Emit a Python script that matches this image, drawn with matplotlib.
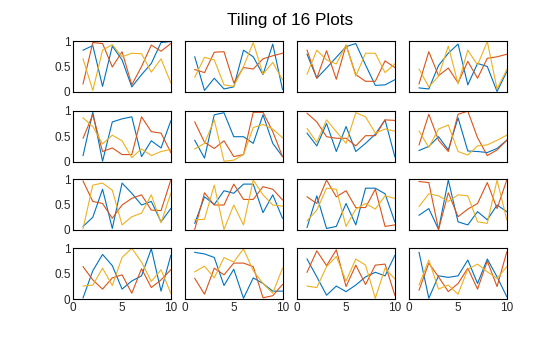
import matplotlib
matplotlib.use("Agg")
import matplotlib.pyplot as plt
import numpy as np

plt.rcParams["font.family"] = ["Liberation Sans", "DejaVu Sans"]

x = np.arange(1, 11)

# one row per tile, tiles ordered row by row
blue = [
    [0.82, 0.91, 0.11, 0.90, 0.63, 0.10, 0.34, 0.56, 0.97, 0.99],
    [0.69, 0.03, 0.27, 0.06, 0.10, 0.82, 0.69, 0.34, 0.94, 0.05],
    [0.74, 0.27, 0.47, 0.68, 0.89, 0.95, 0.53, 0.13, 0.14, 0.24],
    [0.08, 0.06, 0.52, 0.76, 0.94, 0.14, 0.56, 0.50, 0.01, 0.40],
    [0.12, 0.97, 0.01, 0.78, 0.84, 0.88, 0.10, 0.41, 0.27, 0.80],
    [0.42, 0.07, 0.92, 0.96, 0.49, 0.49, 0.36, 0.92, 0.36, 0.10],
    [0.56, 0.31, 0.75, 0.20, 0.69, 0.20, 0.36, 0.54, 0.82, 0.10],
    [0.22, 0.30, 0.49, 0.23, 0.86, 0.21, 0.20, 0.18, 0.26, 0.42],
    [0.07, 0.25, 0.80, 0.03, 0.92, 0.72, 0.49, 0.56, 0.16, 0.42],
    [0.13, 0.65, 0.50, 0.77, 0.72, 0.90, 0.90, 0.34, 0.69, 0.23],
    [0.05, 0.67, 0.03, 0.07, 0.52, 0.10, 0.82, 0.82, 0.71, 0.16],
    [0.29, 0.42, 0.01, 0.98, 0.16, 0.10, 0.36, 0.20, 0.49, 0.36],
    [0.03, 0.56, 0.88, 0.66, 0.20, 0.36, 0.46, 0.99, 0.16, 0.86],
    [0.92, 0.89, 0.82, 0.27, 0.59, 0.02, 0.42, 0.31, 0.16, 0.16],
    [0.79, 0.44, 0.08, 0.26, 0.15, 0.28, 0.44, 0.53, 0.46, 0.86],
    [0.92, 0.02, 0.46, 0.43, 0.46, 0.77, 0.31, 0.79, 0.44, 0.05],
]
orange = [
    [0.16, 0.97, 0.95, 0.49, 0.79, 0.14, 0.50, 0.92, 0.80, 0.95],
    [0.44, 0.38, 0.78, 0.79, 0.18, 0.48, 0.45, 0.65, 0.71, 0.76],
    [0.82, 0.27, 0.81, 0.25, 0.92, 0.34, 0.21, 0.21, 0.61, 0.48],
    [0.16, 0.79, 0.32, 0.47, 0.18, 0.60, 0.27, 0.66, 0.69, 0.74],
    [0.46, 0.92, 0.20, 0.27, 0.14, 0.14, 0.88, 0.59, 0.56, 0.18],
    [0.78, 0.38, 0.26, 0.41, 0.10, 0.14, 0.97, 0.97, 0.59, 0.10],
    [0.95, 0.78, 0.49, 0.46, 0.46, 0.31, 0.51, 0.51, 0.82, 0.81],
    [0.33, 0.93, 0.42, 0.20, 0.93, 0.99, 0.47, 0.12, 0.23, 0.42],
    [0.96, 0.56, 0.52, 0.23, 0.49, 0.62, 0.69, 0.39, 0.38, 0.98],
    [0.01, 0.73, 0.49, 0.49, 0.90, 0.60, 0.60, 0.85, 0.80, 0.59],
    [0.65, 0.52, 0.98, 0.65, 0.77, 0.44, 0.44, 0.80, 0.07, 0.10],
    [0.95, 0.93, 0.01, 0.73, 0.26, 0.41, 0.52, 0.93, 0.42, 0.98],
    [0.64, 0.38, 0.20, 0.42, 0.48, 0.12, 0.60, 0.23, 0.38, 0.58],
    [0.41, 0.10, 0.61, 0.48, 0.71, 0.71, 0.64, 0.03, 0.07, 0.29],
    [0.53, 0.95, 0.66, 0.97, 0.25, 0.67, 0.29, 0.67, 0.69, 0.08],
    [0.18, 0.71, 0.44, 0.15, 0.31, 0.61, 0.20, 0.75, 0.25, 0.93],
]
yellow = [
    [0.65, 0.03, 0.82, 0.93, 0.69, 0.76, 0.75, 0.39, 0.65, 0.18],
    [0.29, 0.68, 0.63, 0.14, 0.11, 0.50, 0.97, 0.35, 0.58, 0.24],
    [0.35, 0.82, 0.63, 0.55, 0.92, 0.31, 0.76, 0.76, 0.38, 0.55],
    [0.45, 0.10, 0.31, 0.90, 0.16, 0.82, 0.53, 0.99, 0.06, 0.44],
    [0.86, 0.69, 0.35, 0.52, 0.41, 0.08, 0.25, 0.12, 0.20, 0.24],
    [0.25, 0.36, 0.82, 0.01, 0.03, 0.14, 0.67, 0.73, 0.64, 0.47],
    [0.65, 0.38, 0.82, 0.59, 0.36, 0.96, 0.88, 0.56, 0.64, 0.60],
    [0.60, 0.28, 0.64, 0.72, 0.20, 0.13, 0.31, 0.33, 0.42, 0.52],
    [0.03, 0.88, 0.92, 0.78, 0.10, 0.26, 0.33, 0.69, 0.14, 0.72],
    [0.20, 0.21, 0.88, 0.01, 0.49, 0.10, 0.98, 0.69, 0.49, 0.47],
    [0.18, 0.39, 0.82, 0.80, 0.07, 0.41, 0.52, 0.41, 0.67, 0.62],
    [0.46, 0.71, 0.67, 0.56, 0.69, 0.67, 0.16, 0.13, 0.98, 0.20],
    [0.26, 0.28, 0.61, 0.27, 0.82, 1.00, 0.73, 0.35, 0.58, 0.12],
    [0.54, 0.65, 0.42, 0.82, 0.73, 0.99, 0.56, 0.31, 0.12, 0.61],
    [0.26, 0.23, 0.64, 0.84, 0.36, 0.79, 0.67, 0.02, 0.61, 0.40],
    [0.28, 0.77, 0.20, 0.28, 0.10, 0.59, 0.69, 0.54, 0.41, 0.64],
]

W, H = 560, 337
col_left = [73.3, 185, 297.3, 409.3]
row_top = [41, 110.7, 179, 248.3]
aw, ah = 97.5, 51

fig = plt.figure(figsize=(5.6, 3.37), dpi=100)
for i in range(16):
    r, c = divmod(i, 4)
    ax = fig.add_axes([col_left[c] / W, 1 - (row_top[r] + ah) / H, aw / W, ah / H])
    ax.plot(x, blue[i], color="#0072BD", lw=0.8)
    ax.plot(x, orange[i], color="#D95319", lw=0.8)
    ax.plot(x, yellow[i], color="#EDB120", lw=0.8)
    ax.set_xlim(0, 10)
    ax.set_ylim(0, 1)
    ax.set_xticks([0, 5, 10])
    ax.set_yticks([0, 0.5, 1])
    ax.set_yticklabels(["0", "0.5", "1"])
    ax.tick_params(direction="in", length=0, labelsize=8.5, pad=2, colors="#262626")
    if c != 0:
        ax.set_yticklabels([])
    if r != 3:
        ax.set_xticklabels([])
    for s in ax.spines.values():
        s.set_linewidth(0.8)
        s.set_color("black")

fig.text(290.5 / W, 1 - 20 / H, "Tiling of 16 Plots", ha="center", va="center", fontsize=12.3, color="black")

fig.savefig("out.png", dpi=100)
